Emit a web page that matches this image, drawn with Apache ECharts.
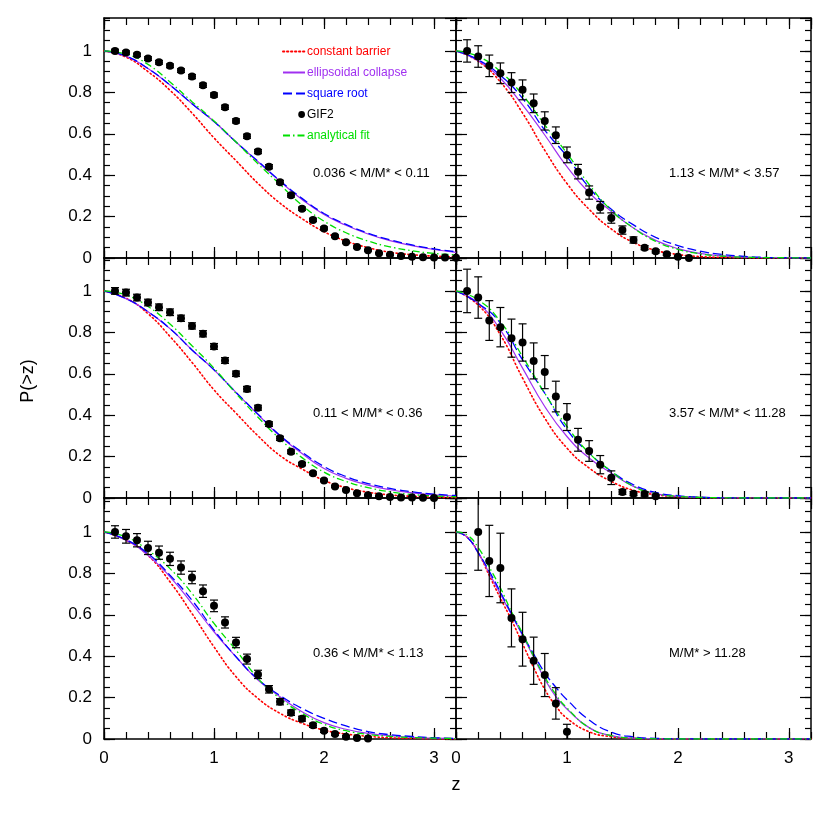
<!DOCTYPE html>
<html><head><meta charset="utf-8">
<script src="https://cdn.jsdelivr.net/npm/echarts@6/dist/echarts.min.js"></script>
<style>html,body{margin:0;padding:0;background:#fff}#c{width:830px;height:830px}</style>
</head><body><div id="c"></div>
<script>
// ---------- data ----------
const zCurve = [0,0.2,0.4,0.6,0.8,1.0,1.2,1.4,1.6,1.8,2.0,2.2,2.4,2.6,2.8,3.0,3.2];
const zCurveFine = [0,0.1,0.2,0.3,0.4,0.5,0.6,0.7,0.8,0.9,1.0,1.2,1.4,1.6,1.8,2.0,2.4,2.8,3.2];

const xTickLabels = ['0','1','2','3'];
const yTickLabels = ['0','0.2','0.4','0.6','0.8','1'];

// panel 1: 0.036 < M/M* < 0.11
const redTL    = [1,0.97,0.9,0.81,0.70,0.58,0.47,0.36,0.265,0.19,0.127,0.082,0.05,0.028,0.016,0.009,0.005];
const purpleTL = [1,0.975,0.915,0.835,0.745,0.659,0.56,0.465,0.37,0.283,0.21,0.158,0.116,0.084,0.06,0.041,0.027];
const blueTL   = [1,0.975,0.915,0.835,0.745,0.659,0.56,0.467,0.373,0.288,0.215,0.162,0.12,0.088,0.063,0.044,0.03];
const greenTL  = [1,0.985,0.935,0.85,0.755,0.662,0.56,0.455,0.355,0.255,0.178,0.122,0.082,0.054,0.035,0.022,0.015];
const zPtsTL = [0.1,0.2,0.3,0.4,0.5,0.6,0.7,0.8,0.9,1.0,1.1,1.2,1.3,1.4,1.5,1.6,1.7,1.8,1.9,2.0,2.1,2.2,2.3,2.4,2.5,2.6,2.7,2.8,2.9,3.0,3.1,3.2];
const gifTL = [1.0,0.992,0.981,0.963,0.945,0.928,0.905,0.876,0.834,0.787,0.728,0.662,0.588,0.514,0.441,0.366,0.303,0.238,0.184,0.143,0.105,0.076,0.053,0.037,0.023,0.016,0.010,0.006,0.004,0.003,0.002,0.001];
const errTL = [0.008,0.008,0.008,0.009,0.009,0.009,0.009,0.01,0.01,0.01,0.01,0.01,0.01,0.01,0.01,0.009,0.009,0.008,0.008,0.007,0.006,0.005,0.005,0.004,0.003,0.003,0.002,0.002,0.002,0.001,0.001,0.001];

// panel 2: 1.13 < M/M* < 3.57
const redTR    = [1,0.95,0.85,0.7,0.52,0.36,0.235,0.14,0.075,0.037,0.017,0.007,0.003,0.001,0,0,0];
const purpleTR = [1,0.953,0.868,0.739,0.594,0.441,0.315,0.225,0.145,0.085,0.045,0.022,0.01,0.004,0.002,0.001,0];
const blueTR   = [1,0.957,0.882,0.771,0.618,0.49,0.34,0.235,0.16,0.1,0.06,0.033,0.017,0.008,0.003,0.001,0];
const greenTR  = [1,0.973,0.9,0.787,0.643,0.506,0.355,0.23,0.145,0.08,0.042,0.02,0.009,0.004,0.002,0.001,0];
const zPtsTR = [0.1,0.2,0.3,0.4,0.5,0.6,0.7,0.8,0.9,1.0,1.1,1.2,1.3,1.4,1.5,1.6,1.7,1.8,1.9,2.0,2.1];
const gifTR = [1.0,0.973,0.928,0.892,0.847,0.812,0.747,0.662,0.593,0.498,0.417,0.316,0.245,0.193,0.135,0.087,0.05,0.032,0.018,0.006,0.0];
const errTR = [0.054,0.052,0.052,0.05,0.048,0.048,0.045,0.044,0.04,0.038,0.035,0.032,0.028,0.025,0.02,0.015,0.01,0.008,0.006,0.004,0.002];

// panel 3: 0.11 < M/M* < 0.36
const redML    = [1,0.965,0.89,0.78,0.655,0.522,0.41,0.3,0.205,0.14,0.085,0.05,0.028,0.015,0.008,0.004,0.002];
const purpleML = [1,0.963,0.9,0.818,0.715,0.619,0.51,0.403,0.298,0.215,0.142,0.095,0.062,0.04,0.025,0.015,0.009];
const blueML   = [1,0.963,0.9,0.818,0.715,0.619,0.51,0.405,0.302,0.222,0.152,0.104,0.07,0.046,0.03,0.019,0.012];
const greenML  = [1,0.98,0.925,0.84,0.735,0.627,0.505,0.39,0.285,0.195,0.125,0.08,0.05,0.03,0.017,0.01,0.006];
const zPtsML = [0.1,0.2,0.3,0.4,0.5,0.6,0.7,0.8,0.9,1.0,1.1,1.2,1.3,1.4,1.5,1.6,1.7,1.8,1.9,2.0,2.1,2.2,2.3,2.4,2.5,2.6,2.7,2.8,2.9,3.0];
const gifML = [1.0,0.992,0.968,0.944,0.921,0.897,0.868,0.831,0.793,0.732,0.664,0.6,0.526,0.436,0.357,0.288,0.223,0.164,0.119,0.085,0.056,0.039,0.023,0.013,0.008,0.005,0.003,0.002,0.001,0.0];
const errML = [0.016,0.016,0.016,0.016,0.016,0.016,0.015,0.015,0.015,0.014,0.014,0.013,0.013,0.012,0.011,0.01,0.009,0.008,0.007,0.006,0.005,0.004,0.003,0.003,0.002,0.002,0.001,0.001,0.001,0.001];

// panel 4: 3.57 < M/M* < 11.28
const redMR    = [1,0.932,0.788,0.579,0.386,0.241,0.145,0.08,0.037,0.016,0.006,0.002,0,0,0,0,0];
const purpleMR = [1,0.94,0.812,0.627,0.442,0.297,0.193,0.121,0.056,0.021,0.008,0.003,0.001,0,0,0,0];
const blueMR   = [1,0.94,0.844,0.667,0.506,0.33,0.217,0.129,0.064,0.027,0.011,0.004,0.001,0,0,0,0];
const greenMR  = [1,0.957,0.852,0.683,0.506,0.346,0.217,0.129,0.056,0.021,0.008,0.003,0.001,0,0,0,0];
const zPtsMR = [0.1,0.2,0.3,0.4,0.5,0.6,0.7,0.8,0.9,1.0,1.1,1.2,1.3,1.4,1.5,1.6,1.7,1.8];
const gifMR = [1.0,0.968,0.857,0.825,0.772,0.751,0.662,0.608,0.49,0.391,0.281,0.227,0.161,0.098,0.029,0.021,0.019,0.008];
const errMR = [0.105,0.1,0.096,0.095,0.092,0.09,0.087,0.08,0.074,0.065,0.055,0.05,0.044,0.033,0.012,0.01,0.01,0.006];

// panel 5: 0.36 < M/M* < 1.13
const redBL    = [1,0.96,0.887,0.759,0.606,0.445,0.301,0.196,0.124,0.076,0.043,0.024,0.013,0.006,0.003,0.001,0];
const purpleBL = [1,0.96,0.887,0.783,0.654,0.518,0.397,0.285,0.204,0.132,0.079,0.047,0.027,0.016,0.008,0.004,0.002];
const blueBL   = [1,0.963,0.895,0.791,0.67,0.526,0.397,0.288,0.21,0.148,0.1,0.063,0.036,0.021,0.012,0.006,0.003];
const greenBL  = [1,0.976,0.912,0.823,0.703,0.558,0.429,0.293,0.196,0.124,0.071,0.04,0.022,0.013,0.007,0.004,0.002];
const zPtsBL = [0.1,0.2,0.3,0.4,0.5,0.6,0.7,0.8,0.9,1.0,1.1,1.2,1.3,1.4,1.5,1.6,1.7,1.8,1.9,2.0,2.1,2.2,2.3,2.4];
const gifBL = [1.0,0.979,0.96,0.923,0.9,0.87,0.828,0.78,0.714,0.643,0.563,0.466,0.386,0.312,0.24,0.18,0.127,0.098,0.066,0.04,0.024,0.011,0.005,0.002];
const errBL = [0.03,0.033,0.032,0.032,0.032,0.032,0.032,0.03,0.03,0.028,0.027,0.025,0.024,0.02,0.018,0.015,0.013,0.012,0.01,0.008,0.006,0.005,0.004,0.003];

// panel 6: M/M* > 11.28  (fine z grid)
const redBR    = [1,0.975,0.9,0.79,0.68,0.575,0.46,0.345,0.24,0.16,0.1,0.035,0.011,0.003,0.001,0,0,0,0];
const purpleBR = [1,0.975,0.9,0.8,0.7,0.6,0.5,0.395,0.29,0.205,0.145,0.055,0.016,0.004,0.001,0,0,0,0];
const blueBR   = [1,0.975,0.9,0.81,0.71,0.605,0.505,0.41,0.32,0.25,0.19,0.092,0.033,0.01,0.003,0.001,0,0,0];
const greenBR  = [1,0.985,0.925,0.83,0.73,0.615,0.51,0.4,0.3,0.215,0.15,0.055,0.016,0.004,0.001,0,0,0,0];
const zPtsBR = [0.2,0.3,0.4,0.5,0.6,0.7,0.8,0.9,1.0];
const gifBR = [1.0,0.86,0.826,0.585,0.482,0.378,0.309,0.172,0.035];
const errBR = [0.185,0.172,0.168,0.14,0.13,0.114,0.104,0.076,0.036];

const panelLabels = ['0.036 < M/M* < 0.11','1.13 < M/M* < 3.57','0.11 < M/M* < 0.36','3.57 < M/M* < 11.28','0.36 < M/M* < 1.13','M/M* > 11.28'];
const seriesNames = ['constant barrier','ellipsoidal collapse','square root','GIF2','analytical fit'];

// ---------- build ----------
const panels = [
  {z:zCurve, r:redTL, p:purpleTL, b:blueTL, g:greenTL, pz:zPtsTL, pv:gifTL, pe:errTL},
  {z:zCurve, r:redTR, p:purpleTR, b:blueTR, g:greenTR, pz:zPtsTR, pv:gifTR, pe:errTR},
  {z:zCurve, r:redML, p:purpleML, b:blueML, g:greenML, pz:zPtsML, pv:gifML, pe:errML},
  {z:zCurve, r:redMR, p:purpleMR, b:blueMR, g:greenMR, pz:zPtsMR, pv:gifMR, pe:errMR},
  {z:zCurve, r:redBL, p:purpleBL, b:blueBL, g:greenBL, pz:zPtsBL, pv:gifBL, pe:errBL},
  {z:zCurveFine, r:redBR, p:purpleBR, b:blueBR, g:greenBR, pz:zPtsBR, pv:gifBR, pe:errBR}
];

const FONT = 'Liberation Sans, Arial, Helvetica, sans-serif';
const colX = [{left:104, width:352},{left:456, width:355}];
const rowY = [{top:18, height:240, ymax:1.159},{top:258, height:240, ymax:1.159},{top:498, height:241, ymax:1.164}];
const C = {red:'#ff0000', purple:'#a030f0', blue:'#0000ff', green:'#00e000', black:'#000000'};

const grids = [], xAxes = [], yAxes = [], series = [], graphics = [];
const zip = (a, b) => a.map((v, i) => [v, b[i]]);

panels.forEach((P, gi) => {
  const row = Math.floor(gi / 2), col = gi % 2;
  grids.push({left: colX[col].left, width: colX[col].width, top: rowY[row].top, height: rowY[row].height, containLabel: false});
  const xBase = xAxes.length, yBase = yAxes.length;
  const lineStyle = {color:'#000', width:1.5};
  const tickStyle = {color:'#000', width:1.2};
  const mkX = (pos, interval, len, showLine, showLabel) => ({
    type:'value', gridIndex: gi, min:0, max:3.2, interval, position: pos,
    axisLine:{show: showLine, onZero:false, lineStyle},
    axisTick:{show:true, inside:true, length: len, lineStyle: tickStyle},
    axisLabel:{show: showLabel, showMaxLabel:false, fontSize:17, fontFamily:FONT, color:'#000', margin:11,
      formatter: v => xTickLabels[Math.round(v)] || ''},
    splitLine:{show:false}
  });
  xAxes.push(mkX('bottom', 1, 11, true, row === 2));
  xAxes.push(mkX('bottom', 0.2, 7, false, false));
  xAxes.push(mkX('top', 1, 11, true, false));
  xAxes.push(mkX('top', 0.2, 7, false, false));
  const mkY = (pos, interval, len, showLine, showLabel) => ({
    type:'value', gridIndex: gi, min:0, max: rowY[row].ymax, interval, position: pos,
    axisLine:{show: showLine, onZero:false, lineStyle},
    axisTick:{show:true, inside:true, length: len, lineStyle: tickStyle},
    axisLabel:{show: showLabel, showMaxLabel:false, fontSize:17, fontFamily:FONT, color:'#000', margin:12,
      formatter: v => yTickLabels[Math.round(v * 5)] || ''},
    splitLine:{show:false}
  });
  yAxes.push(mkY('left', 0.2, 11, true, col === 0));
  yAxes.push(mkY('left', 0.05, 6, false, false));
  yAxes.push(mkY('right', 0.2, 11, true, false));
  yAxes.push(mkY('right', 0.05, 6, false, false));

  const common = {xAxisIndex: xBase, yAxisIndex: yBase, type:'line', symbol:'none', smooth:0.5, silent:true};
  series.push(Object.assign({}, common, {name: seriesNames[0], data: zip(P.z, P.r), z:2,
    lineStyle:{color:C.red, width:1.6, type:[1.3, 2.7], cap:'round'}, itemStyle:{color:C.red}}));
  series.push(Object.assign({}, common, {name: seriesNames[1], data: zip(P.z, P.p), z:2,
    lineStyle:{color:C.purple, width:1.2, type:'solid'}, itemStyle:{color:C.purple}}));
  series.push(Object.assign({}, common, {name: seriesNames[2], data: zip(P.z, P.b), z:3,
    lineStyle:{color:C.blue, width:1.3, type:[9, 4]}, itemStyle:{color:C.blue}}));
  series.push(Object.assign({}, common, {name: seriesNames[4], data: zip(P.z, P.g), z:3,
    lineStyle:{color:C.green, width:1.3, type:[7, 3, 1.5, 3]}, itemStyle:{color:C.green}}));
  series.push({type:'custom', xAxisIndex: xBase, yAxisIndex: yBase, clip:true, silent:true, z:4,
    data: P.pz.map((v, i) => [v, P.pv[i], P.pe[i]]), encode:{x:0, y:1},
    renderItem: (params, api) => {
      const x = api.value(0), y = api.value(1), e = api.value(2);
      const lo = api.coord([x, y - e]), hi = api.coord([x, y + e]);
      const w = 4, st = {stroke:'#000', lineWidth:1.2};
      return {type:'group', children:[
        {type:'line', shape:{x1:lo[0], y1:lo[1], x2:hi[0], y2:hi[1]}, style:st},
        {type:'line', shape:{x1:lo[0]-w, y1:lo[1], x2:lo[0]+w, y2:lo[1]}, style:st},
        {type:'line', shape:{x1:hi[0]-w, y1:hi[1], x2:hi[0]+w, y2:hi[1]}, style:st}
      ]};
    }});
  series.push({name: seriesNames[3], type:'scatter', xAxisIndex: xBase, yAxisIndex: yBase, silent:true, z:5,
    symbol:'circle', symbolSize:8, itemStyle:{color:'#000', opacity:1}, data: zip(P.pz, P.pv)});

  graphics.push({type:'text', x: col === 0 ? 313 : 669, y: [173, 413, 653][row],
    style:{text: panelLabels[gi], fontSize:13, fontFamily:FONT, fill:'#000', verticalAlign:'middle', align:'left'}});
});

graphics.push({type:'text', x:28, y:381, rotation: Math.PI/2,
  style:{text:'P(>z)', fontSize:18, fontFamily:FONT, fill:'#000', align:'center', verticalAlign:'middle'}});
graphics.push({type:'text', x:456, y:785,
  style:{text:'z', fontSize:18, fontFamily:FONT, fill:'#000', align:'center', verticalAlign:'middle'}});

const noSym = {opacity:0};
const chart = echarts.init(document.getElementById('c'), null, {renderer:'canvas'});
chart.setOption({
  animation:false,
  backgroundColor:'#fff',
  grid: grids, xAxis: xAxes, yAxis: yAxes, series,
  legend:{
    left:277, top:40, orient:'vertical', selectedMode:false,
    itemWidth:22, itemHeight:8, itemGap:8,
    textStyle:{fontSize:12, fontFamily:FONT, lineHeight:13, padding:[0,0,0,-3]},
    data:[
      {name: seriesNames[0], textStyle:{color:C.red}, itemStyle:noSym},
      {name: seriesNames[1], textStyle:{color:C.purple}, itemStyle:noSym},
      {name: seriesNames[2], textStyle:{color:C.blue}, itemStyle:noSym},
      {name: seriesNames[3], textStyle:{color:'#000'}, icon:'path://M0,4L0.01,4M18,4A4,4,0,1,1,26,4A4,4,0,1,1,18,4Z', itemStyle:{opacity:1}},
      {name: seriesNames[4], textStyle:{color:C.green}, itemStyle:noSym}
    ]
  },
  graphic: graphics
});
</script></body></html>
